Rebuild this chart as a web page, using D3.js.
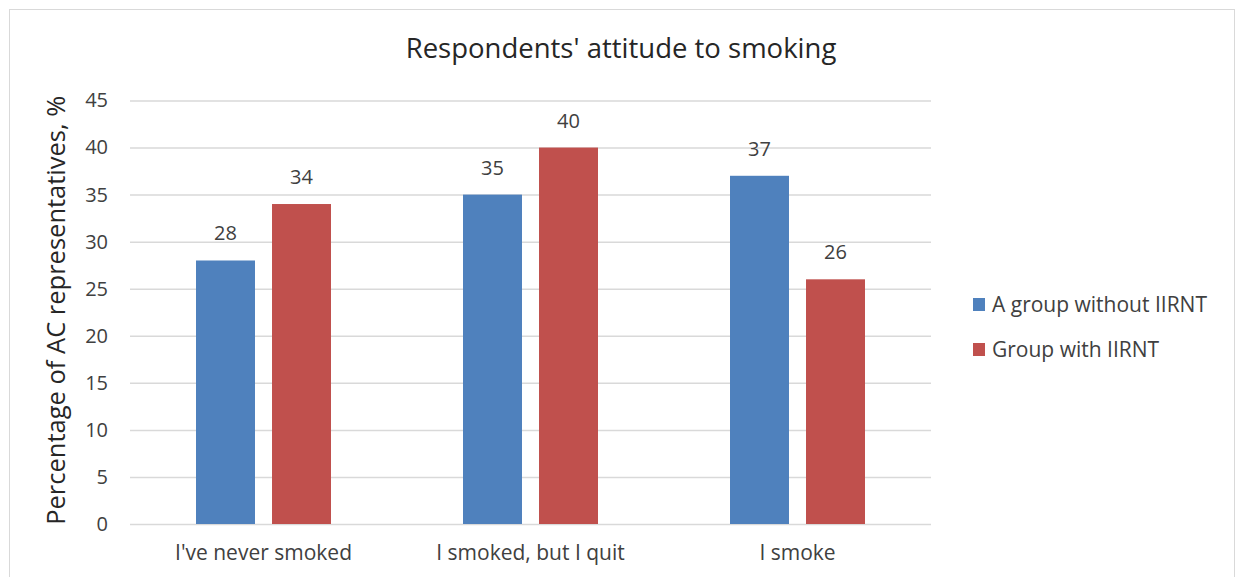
<!DOCTYPE html>
<html>
<head>
<meta charset="utf-8">
<script src="https://cdn.jsdelivr.net/npm/d3@7"></script>
<style>
  html, body { margin: 0; padding: 0; background: #fff; }
  svg { display: block; font-family: "Open Sans", "Noto Sans", sans-serif; }
</style>
</head>
<body>
<svg id="chart" width="1237" height="577"></svg>
<script>
// Survey answers by group
const categories = ["I've never smoked", "I smoked, but I quit", "I smoke"];
const seriesNames = ["A group without IIRNT", "Group with IIRNT"];
const withoutIIRNT = [28, 35, 37];
const withIIRNT = [34, 40, 26];
const yTicks = [0, 5, 10, 15, 20, 25, 30, 35, 40, 45];
const colors = ["#4F81BD", "#C0504D"];

const rows = categories.map((c, i) => ({ category: c, values: [withoutIIRNT[i], withIIRNT[i]] }));

const svg = d3.select("#chart");

// outer chart frame
svg.append("rect")
  .attr("x", 9.5).attr("y", 9.5)
  .attr("width", 1225).attr("height", 590)
  .attr("fill", "#fff").attr("stroke", "#D9D9D9").attr("stroke-width", 1);

const plot = { left: 130, right: 931, top: 100.5, bottom: 524 };

const y = d3.scaleLinear().domain([0, 45]).range([plot.bottom, plot.top]);
const x0 = d3.scaleBand().domain(categories).range([plot.left, plot.right]).paddingInner(0).paddingOuter(0);
const groupWidth = 135;
const x1 = d3.scaleBand().domain(seriesNames)
  .range([(x0.bandwidth() - groupWidth) / 2, (x0.bandwidth() + groupWidth) / 2])
  .paddingInner(0.224).paddingOuter(0);

const labelFont = "\"Open Sans\", sans-serif";

// gridlines and value ticks
const yAxis = d3.axisLeft(y).tickValues(yTicks).tickSize(-(plot.right - plot.left)).tickPadding(22);
const gy = svg.append("g").attr("transform", `translate(${plot.left},0)`).call(yAxis);
gy.select(".domain").remove();
gy.selectAll(".tick line").attr("stroke", "#D9D9D9").attr("stroke-width", 1.5);
gy.selectAll(".tick text")
  .attr("fill", "#404040").style("font-size", "20px").style("font-family", labelFont);

// category axis
const xAxis = d3.axisBottom(x0).tickSize(0).tickPadding(21);
const gx = svg.append("g").attr("transform", `translate(0,${plot.bottom})`).call(xAxis);
gx.select(".domain").remove();
gx.selectAll(".tick text")
  .attr("fill", "#404040").style("font-size", "21px").style("font-family", labelFont);

// bars
const groups = svg.append("g").selectAll("g")
  .data(rows).join("g")
  .attr("transform", d => `translate(${x0(d.category)},0)`);

groups.selectAll("rect")
  .data(d => d.values.map((v, i) => ({ name: seriesNames[i], value: v, i })))
  .join("rect")
  .attr("x", d => x1(d.name))
  .attr("y", d => y(d.value))
  .attr("width", x1.bandwidth())
  .attr("height", d => y(0) - y(d.value))
  .attr("fill", d => colors[d.i]);

// value labels
groups.selectAll("text.val")
  .data(d => d.values.map((v, i) => ({ name: seriesNames[i], value: v, i })))
  .join("text")
  .attr("class", "val")
  .attr("x", d => x1(d.name) + x1.bandwidth() / 2)
  .attr("y", d => y(d.value) - 20)
  .attr("text-anchor", "middle")
  .attr("fill", "#404040")
  .style("font-size", "20px")
  .text(d => d.value);

// title
svg.append("text")
  .attr("x", 621).attr("y", 58)
  .attr("text-anchor", "middle")
  .attr("fill", "#262626")
  .style("font-size", "27.5px")
  .text("Respondents' attitude to smoking");

// y axis title
svg.append("text")
  .attr("transform", `translate(65,${(plot.top + plot.bottom) / 2 - 2}) rotate(-90)`)
  .attr("text-anchor", "middle")
  .attr("fill", "#262626")
  .style("font-size", "25.5px")
  .text("Percentage of AC representatives, %");

// legend
const legend = svg.append("g").selectAll("g")
  .data(seriesNames).join("g")
  .attr("transform", (d, i) => `translate(973,${298 + i * 45})`);
legend.append("rect").attr("width", 12).attr("height", 13).attr("fill", (d, i) => colors[i]);
legend.append("text")
  .attr("x", 19).attr("y", 14)
  .attr("fill", "#404040")
  .style("font-size", "21px")
  .text(d => d);
</script>
</body>
</html>
